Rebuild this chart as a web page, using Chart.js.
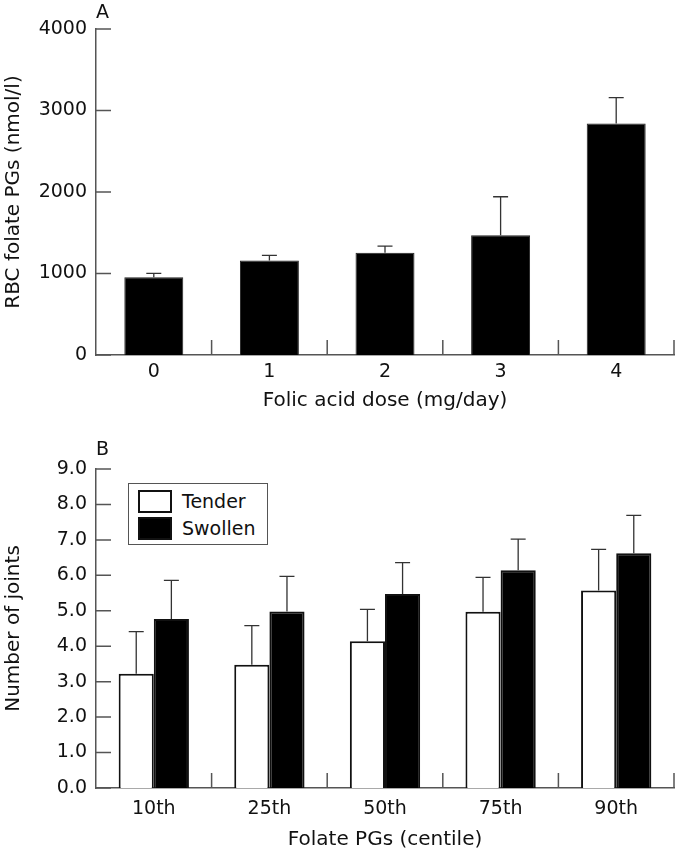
<!DOCTYPE html>
<html>
<head>
<meta charset="utf-8">
<script src="https://cdn.jsdelivr.net/npm/chart.js@4.4.1/dist/chart.umd.min.js"></script>
<style>
  body { margin: 0; background: #fff; font-family: "DejaVu Sans", sans-serif; color: #111; }
  #wrap { position: relative; width: 675px; height: 853px; overflow: hidden; }
  canvas { position: absolute; left: 0; }
  #chartA { top: 0; }
  #chartB { top: 430px; }
  .tag { position: absolute; font-size: 19px; line-height: 1; }
  #legend {
    position: absolute; left: 128px; top: 483px; width: 138px; height: 60px;
    border: 1.5px solid #555; background: #fff;
  }
  #legend .row { position: absolute; left: 9px; height: 23px; font-size: 19px; line-height: 23px; }
  #legend .sw { position: absolute; left: 0; top: 0; width: 30px; height: 19px; border: 2px solid #111; }
  #legend .txt { position: absolute; left: 44px; top: 0; white-space: nowrap; }
</style>
</head>
<body>
<div id="wrap">
  <canvas id="chartA" width="675" height="420"></canvas>
  <canvas id="chartB" width="675" height="423"></canvas>
  <div class="tag" style="left:96px;top:2px;">A</div>
  <div class="tag" style="left:96px;top:439px;">B</div>
  <div id="legend"></div>
</div>
<script>
// panel A: RBC folate by dose
const doseLabels = ['0', '1', '2', '3', '4'];
const rbcFolate = [953, 1160, 1255, 1470, 2840];
const rbcFolateErr = [49, 62, 80, 472, 318];

// panel B: joint counts by folate centile
const centileLabels = ['10th', '25th', '50th', '75th', '90th'];
const seriesNames = ['Tender', 'Swollen'];
const tenderJoints = [3.22, 3.48, 4.14, 4.97, 5.57];
const tenderErr = [1.19, 1.10, 0.90, 0.97, 1.16];
const swollenJoints = [4.77, 4.98, 5.47, 6.14, 6.62];
const swollenErr = [1.09, 0.99, 0.89, 0.88, 1.07];

const axisColor = '#555';
const fontFamily = '"DejaVu Sans", sans-serif';

// upward-only error bars with a cap
const errorBars = {
    id: 'errorBars',
    afterDatasetsDraw(chart) {
        const ctx = chart.ctx;
        const yScale = chart.scales.y;
        ctx.save();
        ctx.strokeStyle = '#333';
        ctx.lineWidth = 1.3;
        chart.data.datasets.forEach((ds, i) => {
            const meta = chart.getDatasetMeta(i);
            meta.data.forEach((bar, j) => {
                const top = yScale.getPixelForValue(ds.data[j] + ds.errors[j]);
                ctx.beginPath();
                ctx.moveTo(bar.x, bar.y);
                ctx.lineTo(bar.x, top);
                ctx.moveTo(bar.x - 7.5, top);
                ctx.lineTo(bar.x + 7.5, top);
                ctx.stroke();
            });
        });
        ctx.restore();
    }
};

// tick marks pointing into the plot area
const innerTicks = {
    id: 'innerTicks',
    afterDraw(chart) {
        const ctx = chart.ctx;
        const x = chart.scales.x;
        const y = chart.scales.y;
        const len = 15;
        ctx.save();
        ctx.strokeStyle = axisColor;
        ctx.lineWidth = 1.5;
        ctx.beginPath();
        y.ticks.forEach(t => {
            const py = y.getPixelForValue(t.value);
            ctx.moveTo(y.right, py);
            ctx.lineTo(y.right + len, py);
        });
        const step = x.getPixelForValue(1) - x.getPixelForValue(0);
        x.ticks.forEach((t, i) => {
            const px = x.getPixelForValue(i) + step / 2;
            ctx.moveTo(px, x.top);
            ctx.lineTo(px, x.top - len);
        });
        ctx.stroke();
        ctx.restore();
    }
};

function baseScales(xTitle, yTitle, yMin, yMax, yStep, fmt, xPad, titlePad) {
    return {
        x: {
            grid: { display: false, drawTicks: false },
            border: { color: axisColor, width: 1.5 },
            ticks: { color: '#111', font: { family: fontFamily, size: 19 }, padding: xPad, maxRotation: 0 },
            title: { display: true, text: xTitle, color: '#111', font: { family: fontFamily, size: 20 }, padding: { top: 0, bottom: titlePad } },
            afterFit: scale => { scale.height = 65; }
        },
        y: {
            min: yMin,
            max: yMax,
            grid: { display: false, drawTicks: false },
            border: { color: axisColor, width: 1.5 },
            ticks: { stepSize: yStep, color: '#111', font: { family: fontFamily, size: 19 }, padding: 9, callback: fmt },
            title: { display: true, text: yTitle, color: '#111', font: { family: fontFamily, size: 20 }, padding: { top: 2, bottom: 0 } },
            afterFit: scale => { scale.width = 96; }
        }
    };
}

new Chart(document.getElementById('chartA'), {
    type: 'bar',
    data: {
        labels: doseLabels,
        datasets: [{
            label: 'RBC folate',
            data: rbcFolate,
            errors: rbcFolateErr,
            backgroundColor: '#000',
            borderColor: '#222',
            borderWidth: 1,
            categoryPercentage: 1,
            barPercentage: 0.51
        }]
    },
    options: {
        responsive: false,
        animation: false,
        layout: { padding: { top: 29, right: 1, left: 0, bottom: 0 } },
        plugins: { legend: { display: false }, tooltip: { enabled: false } },
        scales: baseScales('Folic acid dose (mg/day)', 'RBC folate PGs (nmol/l)', 0, 4000, 1000, v => v, 6, 7)
    },
    plugins: [errorBars, innerTicks]
});

new Chart(document.getElementById('chartB'), {
    type: 'bar',
    data: {
        labels: centileLabels,
        datasets: [{
            label: seriesNames[0],
            data: tenderJoints,
            errors: tenderErr,
            backgroundColor: '#fff',
            borderColor: '#111',
            borderWidth: 2,
            categoryPercentage: 0.608,
            barPercentage: 1
        }, {
            label: seriesNames[1],
            data: swollenJoints,
            errors: swollenErr,
            backgroundColor: '#000',
            borderColor: '#111',
            borderWidth: 2,
            categoryPercentage: 0.608,
            barPercentage: 1
        }]
    },
    options: {
        responsive: false,
        animation: false,
        layout: { padding: { top: 39, right: 1, left: 0, bottom: 0 } },
        plugins: { legend: { display: false }, tooltip: { enabled: false } },
        scales: baseScales('Folate PGs (centile)', 'Number of joints', 0, 9, 1, v => v.toFixed(1), 10, 1)
    },
    plugins: [errorBars, innerTicks]
});

// legend box for panel B
const fills = ['#fff', '#000'];
const legend = document.getElementById('legend');
seriesNames.forEach((name, i) => {
    const row = document.createElement('div');
    row.className = 'row';
    row.style.top = (6 + i * 27) + 'px';
    row.innerHTML = '<span class="sw" style="background:' + fills[i] + '"></span><span class="txt">' + name + '</span>';
    legend.appendChild(row);
});
</script>
</body>
</html>
